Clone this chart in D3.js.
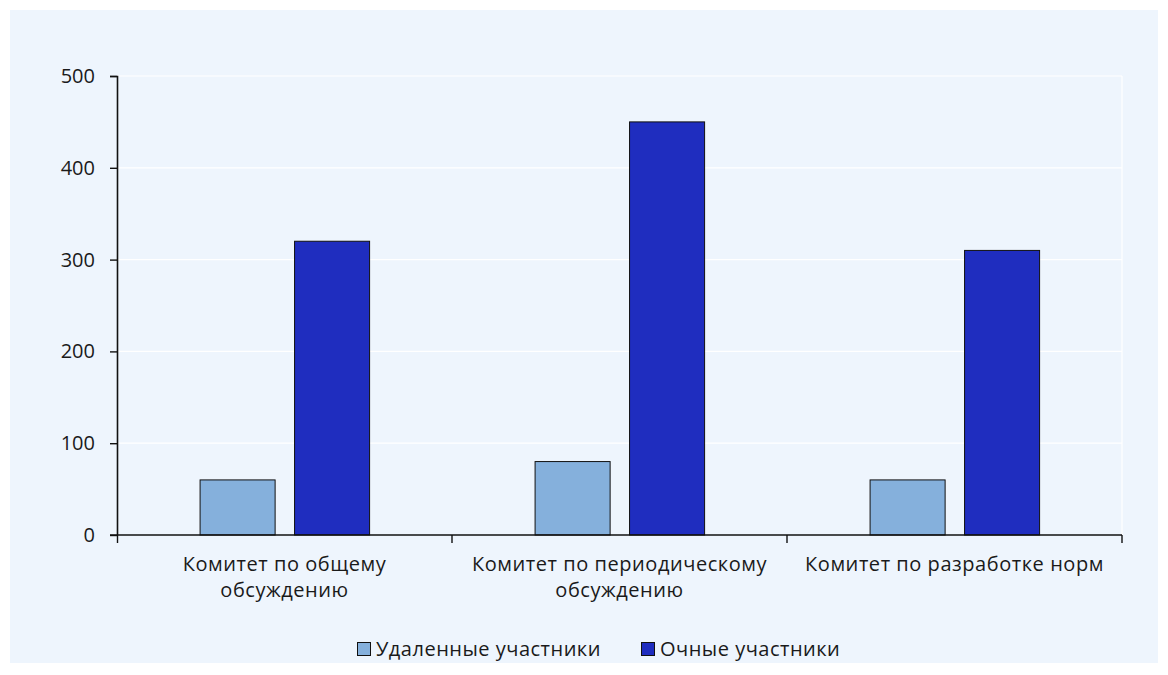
<!DOCTYPE html>
<html>
<head>
<meta charset="utf-8">
<script src="https://cdn.jsdelivr.net/npm/d3@7"></script>
<style>
  body { margin: 0; background: #ffffff; }
  text { font-family: "Open Sans", "Noto Sans", sans-serif; fill: #1a1a1a; }
</style>
</head>
<body>
<div class="container_graph"></div>
<script>
// данные графика
const categories = [
  ["Комитет по общему", "обсуждению"],
  ["Комитет по периодическому", "обсуждению"],
  ["Комитет по разработке норм"]
];
const seriesNames = ["Удаленные участники", "Очные участники"];
const remoteValues = [60, 80, 60];
const inPersonValues = [320, 450, 310];
const yTicks = [0, 100, 200, 300, 400, 500];
const colors = ["#85B0DC", "#1F2DBF"];

const width = 1168;
const height = 675;
const margin = { top: 76, right: 46, bottom: 140, left: 117 };
const innerWidth = width - margin.left - margin.right;
const innerHeight = height - margin.top - margin.bottom;
const fontSize = "20px";
const fontFamily = '"Open Sans", "Noto Sans", sans-serif';

const svg = d3
  .select(".container_graph")
  .append("svg")
  .attr("width", width)
  .attr("height", height);

// panel de fondo
svg
  .append("rect")
  .attr("x", 10)
  .attr("y", 10)
  .attr("width", 1148)
  .attr("height", 653)
  .attr("fill", "#EEF5FD");

const g = svg
  .append("g")
  .attr("transform", `translate(${margin.left},${margin.top})`);

const x = d3
  .scaleBand()
  .domain(d3.range(categories.length))
  .range([0, innerWidth]);

const y = d3.scaleLinear().domain([0, 500]).range([innerHeight, 0]);

// lineas de grilla
g.selectAll(".grid")
  .data(yTicks.slice(1))
  .join("line")
  .attr("x1", 0)
  .attr("x2", innerWidth)
  .attr("y1", (d) => y(d))
  .attr("y2", (d) => y(d))
  .attr("stroke", "#ffffff")
  .attr("stroke-width", 1.2);

g.append("line")
  .attr("x1", innerWidth)
  .attr("x2", innerWidth)
  .attr("y1", 0)
  .attr("y2", innerHeight)
  .attr("stroke", "#ffffff")
  .attr("stroke-width", 1.2);

// barras
const barW = x.bandwidth() * 0.224;
const offsets = [x.bandwidth() * 0.248, x.bandwidth() * 0.53];
const series = [remoteValues, inPersonValues];

series.forEach((vals, s) => {
  g.selectAll(`.bar-${s}`)
    .data(vals)
    .join("rect")
    .attr("class", `bar-${s}`)
    .attr("x", (d, i) => x(i) + offsets[s])
    .attr("y", (d) => y(d))
    .attr("width", barW)
    .attr("height", (d) => innerHeight - y(d))
    .attr("fill", colors[s])
    .attr("stroke", "#111111")
    .attr("stroke-width", 1);
});

// eje Y
const yAxis = g
  .append("g")
  .call(d3.axisLeft(y).tickValues(yTicks).tickSize(7).tickPadding(15));
yAxis.select(".domain").attr("stroke", "#111").attr("stroke-width", 1.6)
  .attr("d", `M-7,0.5H0.5V${innerHeight}`);
yAxis.selectAll(".tick line").attr("stroke", "#111").attr("stroke-width", 1.4);
yAxis.selectAll(".tick text").style("font-size", fontSize).attr("fill", "#1a1a1a")
  .style("font-family", fontFamily);

// eje X
const xAxisG = g.append("g").attr("transform", `translate(0,${innerHeight})`);
xAxisG.append("line")
  .attr("x1", -7)
  .attr("x2", innerWidth)
  .attr("stroke", "#111")
  .attr("stroke-width", 1.6);
xAxisG.selectAll(".xtick")
  .data(d3.range(categories.length + 1))
  .join("line")
  .attr("x1", (d) => (d === 0 ? 0.5 : d * x.bandwidth()))
  .attr("x2", (d) => (d === 0 ? 0.5 : d * x.bandwidth()))
  .attr("y1", 0)
  .attr("y2", 8)
  .attr("stroke", "#111")
  .attr("stroke-width", 1.4);

const labels = xAxisG.selectAll(".xlabel")
  .data(categories)
  .join("text")
  .attr("text-anchor", "middle")
  .attr("transform", (d, i) => `translate(${x(i) + x.bandwidth() / 2},0)`)
  .style("font-size", fontSize)
  .style("letter-spacing", "0.55px");
labels.selectAll("tspan")
  .data((d) => d)
  .join("tspan")
  .attr("x", 0)
  .attr("y", (d, i) => 36 + i * 26)
  .text((d) => d);

// leyenda
const legendItems = [
  { name: seriesNames[0], color: colors[0], x: 357 },
  { name: seriesNames[1], color: colors[1], x: 641 }
];
const legend = svg.append("g").attr("transform", "translate(0,642)");
legendItems.forEach((d) => {
  legend.append("rect")
    .attr("x", d.x + 0.5)
    .attr("y", 0.5)
    .attr("width", 13)
    .attr("height", 13)
    .attr("fill", d.color)
    .attr("stroke", "#111")
    .attr("stroke-width", 1);
  legend.append("text")
    .attr("x", d.x + 19)
    .attr("y", 14)
    .style("font-size", fontSize)
    .style("letter-spacing", "0.5px")
    .text(d.name);
});
</script>
</body>
</html>
